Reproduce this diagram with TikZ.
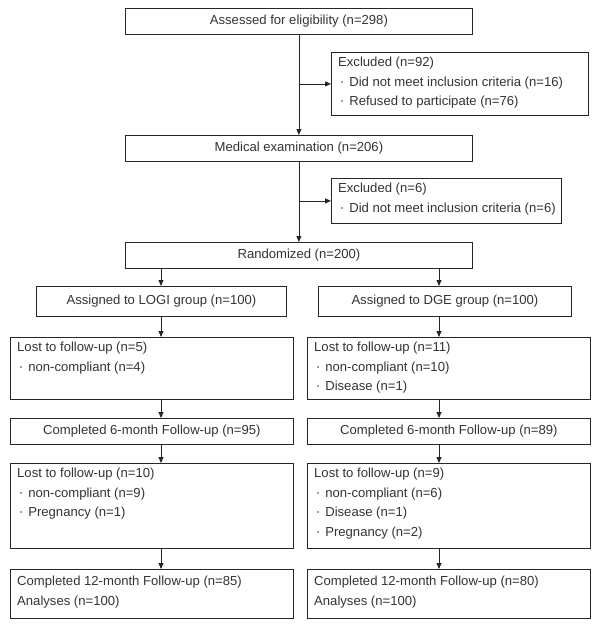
\documentclass[tikz,border=0pt]{standalone}
\usepackage{fontspec}
\setmainfont{Liberation Sans}
\usetikzlibrary{arrows.meta,calc}
\newcommand\bul{\hspace{3pt}\raisebox{0.3ex}{\fontsize{6}{6}\selectfont\textbullet}\hspace{6pt}}
\begin{document}
\begin{tikzpicture}[x=1pt,y=-1pt,
  box/.style={draw=black!85, line width=0.8pt, inner sep=0pt, anchor=north west,
    font=\fontsize{13.1}{19.5}\selectfont, text=black!80},
  txt/.style={inner sep=0pt, anchor=north west, align=left,
    font=\fontsize{13.1}{19.5}\selectfont, text=black!80},
  arr/.style={draw=black!85, line width=0.8pt, -{Triangle[length=6pt,width=5pt]}}]
\useasboundingbox (0,0) rectangle (600,633);
% top column
\node[box, minimum width=347pt, minimum height=26pt] (top) at (125,8) {Assessed for eligibility (n=298)};
\node[box, minimum width=257pt, minimum height=63pt] (ex1) at (331,52) {};
\node[txt] (ex1t) at ($(ex1.north west)+(7,5)$) {Excluded (n=92)\\\bul Did not meet inclusion criteria (n=16)\\\bul Refused to participate (n=76)};
\node[box, minimum width=347pt, minimum height=26pt] (med) at (125,135) {Medical examination (n=206)};
\node[box, minimum width=230pt, minimum height=45pt] (ex2) at (331,178) {};
\node[txt] (ex2t) at ($(ex2.north west)+(7,5)$) {Excluded (n=6)\\\bul Did not meet inclusion criteria (n=6)};
\node[box, minimum width=347pt, minimum height=26pt] (rand) at (125,242) {Randomized (n=200)};
% two columns
\node[box, minimum width=250pt, minimum height=30pt] (logi) at (36,286) {Assigned to LOGI group (n=100)};
\node[box, minimum width=253pt, minimum height=30pt] (dge) at (318,286) {Assigned to DGE group (n=100)};
\node[box, minimum width=283pt, minimum height=62pt] (lostL) at (10,337) {};
\node[txt] (lostLt) at ($(lostL.north west)+(7,5)$) {Lost to follow-up (n=5)\\\bul non-compliant (n=4)};
\node[box, minimum width=283pt, minimum height=62pt] (lostR) at (307,337) {};
\node[txt] (lostRt) at ($(lostR.north west)+(7,5)$) {Lost to follow-up (n=11)\\\bul non-compliant (n=10)\\\bul Disease (n=1)};
\node[box, minimum width=283pt, minimum height=26pt] (c6L) at (10,418) {Completed 6-month Follow-up (n=95)};
\node[box, minimum width=283pt, minimum height=26pt] (c6R) at (307,418) {Completed 6-month Follow-up (n=89)};
\node[box, minimum width=283pt, minimum height=85pt] (lost2L) at (10,463) {};
\node[txt] (lost2Lt) at ($(lost2L.north west)+(7,5)$) {Lost to follow-up (n=10)\\\bul non-compliant (n=9)\\\bul Pregnancy (n=1)};
\node[box, minimum width=283pt, minimum height=85pt] (lost2R) at (307,463) {};
\node[txt] (lost2Rt) at ($(lost2R.north west)+(7,5)$) {Lost to follow-up (n=9)\\\bul non-compliant (n=6)\\\bul Disease (n=1)\\\bul Pregnancy (n=2)};
\node[box, minimum width=283pt, minimum height=49pt] (c12L) at (10,569) {};
\node[txt] (c12Lt) at ($(c12L.north west)+(7,7)$) {Completed 12-month Follow-up (n=85)\\Analyses (n=100)};
\node[box, minimum width=283pt, minimum height=49pt] (c12R) at (307,569) {};
\node[txt] (c12Rt) at ($(c12R.north west)+(7,7)$) {Completed 12-month Follow-up (n=80)\\Analyses (n=100)};
% connectors
\coordinate (cL) at (161,0);
\coordinate (cR) at (439,0);
\draw[arr] (top.south) -- (med.north);
\draw[arr] (top.south |- ex1.west) -- (ex1.west);
\draw[arr] (med.south) -- (rand.north);
\draw[arr] (med.south |- ex2.west) -- (ex2.west);
\draw[arr] (cL |- rand.south) -- (cL |- logi.north);
\draw[arr] (cR |- rand.south) -- (cR |- dge.north);
\draw[arr] (cL |- logi.south) -- (cL |- lostL.north);
\draw[arr] (cR |- dge.south) -- (cR |- lostR.north);
\draw[arr] (cL |- lostL.south) -- (cL |- c6L.north);
\draw[arr] (cR |- lostR.south) -- (cR |- c6R.north);
\draw[arr] (cL |- c6L.south) -- (cL |- lost2L.north);
\draw[arr] (cR |- c6R.south) -- (cR |- lost2R.north);
\draw[arr] (cL |- lost2L.south) -- (cL |- c12L.north);
\draw[arr] (cR |- lost2R.south) -- (cR |- c12R.north);
\end{tikzpicture}
\end{document}
